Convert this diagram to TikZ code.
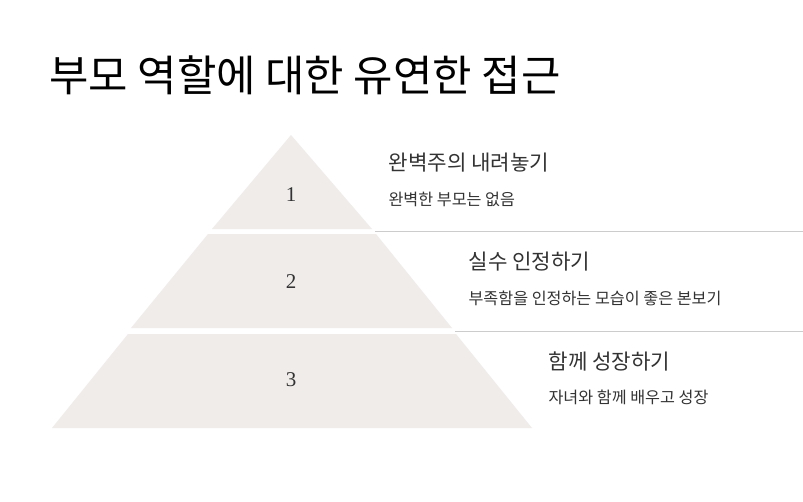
\documentclass[tikz,border=0pt]{standalone}
\usepackage{fontspec}
\setmainfont{Noto Sans CJK KR}
\newfontfamily\numfont{Liberation Serif}
\definecolor{layerc}{HTML}{EFECEA}
\begin{document}
\begin{tikzpicture}[x=1pt,y=-1pt,
  layer/.style={fill=layerc, draw=none},
  sep/.style={draw=black!20, line width=0.8pt},
  num/.style={font=\numfont\fontsize{21}{24}\selectfont, text=black!80},
  head/.style={anchor=west, font=\fontsize{21.2}{24}\selectfont, text=black!80},
  sub/.style={anchor=west, font=\fontsize{16.2}{19}\selectfont, text=black!80}]
\useasboundingbox (0,0) rectangle (803,501);
\fill[white] (0,0) rectangle (803,501);
\node[anchor=west, font=\fontsize{42.8}{48}\selectfont] (title) at (46,75) {부모 역할에 대한 유연한 접근};
\fill[layer] (291,135) -- (372,229) -- (212,229) -- cycle;
\fill[layer] (208,234) -- (376,234) -- (452,328) -- (131,328) -- cycle;
\fill[layer] (128,334) -- (456,334) -- (532,428) -- (52,428) -- cycle;
\node[num] (n1) at (291,195) {1};
\node[num] (n2) at (291,282) {2};
\node[num] (n3) at (291,380) {3};
\draw[sep] (375,231) -- (803,231);
\draw[sep] (455,331) -- (803,331);
\node[head] (h1) at (385,163) {완벽주의 내려놓기};
\node[sub] (s1) at (385,199) {완벽한 부모는 없음};
\node[head] (h2) at (465,262) {실수 인정하기};
\node[sub] (s2) at (465,298) {부족함을 인정하는 모습이 좋은 본보기};
\node[head] (h3) at (545,361) {함께 성장하기};
\node[sub] (s3) at (545,397) {자녀와 함께 배우고 성장};
\end{tikzpicture}
\end{document}
